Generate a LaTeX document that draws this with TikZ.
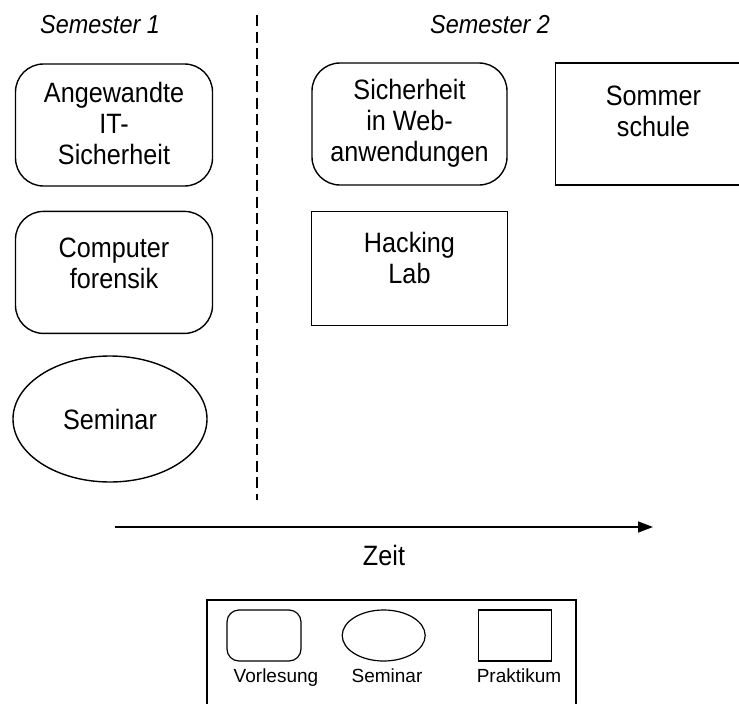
\documentclass[tikz,border=0pt]{standalone}
\usepackage{fontspec}
\setmainfont{Liberation Sans}
\newfontfamily\boxfamily[FakeStretch=0.9]{Liberation Sans}
\usetikzlibrary{positioning, shapes.geometric, arrows.meta}
\newcommand{\boxfont}{\fontsize{28}{31}\selectfont\boxfamily}
\newcommand{\legfont}{\fontsize{19}{23}\selectfont}
\newcommand{\semfont}{\fontsize{26}{30}\selectfont\boxfamily\itshape}

\begin{document}
\begin{tikzpicture}[x=1pt, y=-1pt,
      vl/.style={rectangle, draw, line width=1.4pt, rounded corners=28pt,
                 minimum width=197pt, minimum height=122pt, inner sep=0pt},
      sem/.style={ellipse, draw, line width=1.4pt, minimum width=194pt,
                 minimum height=126pt, inner sep=0pt, font=\boxfont},
      prak/.style={rectangle, draw, line width=1.4pt, minimum width=196pt,
                 minimum height=122pt, inner sep=0pt},
      txt/.style={align=center, font=\boxfont, inner sep=0pt},
      semlbl/.style={anchor=base, font=\semfont, inner sep=0pt},
      leg/.style={draw, line width=1.2pt, minimum width=74pt, minimum height=51pt, inner sep=0pt},
      legtxt/.style={anchor=base, font=\legfont, inner sep=0pt},
      timearr/.style={-{Triangle[length=15pt, width=11pt]}, line width=1.4pt},
      sep/.style={dash pattern=on 11pt off 5.5pt, line width=1.4pt}]
    \useasboundingbox (0,0) rectangle (739,704);
    \node[semlbl] (s1) at (100,34) {Semester 1};
    \node[semlbl] (s2) at (490,34) {Semester 2};
    \coordinate (d0) at (257,15);
    \coordinate (d1) at (257,500);
    \draw[sep] (d0) -- (d1);
    \node[vl, label={[txt, yshift=2pt]center:{Angewandte\\IT-\\Sicherheit}}] (its) at (114,125) {};
    \node[vl, below=24pt of its, label={[txt, yshift=9pt]center:{Computer\\forensik}}] (cf) {};
    \node[sem] (seminar) at (110,419) {Seminar};
    \node[vl, minimum width=195pt, label={[txt, yshift=1pt]center:{Sicherheit\\in Web-\\anwendungen}}] (web) at (409.5,124) {};
    \node[prak, minimum height=114pt, below=25pt of web, label={[txt, yshift=10pt]center:{Hacking\\Lab}}] (hack) {};
    \node[prak, right=47pt of web, label={[txt, yshift=13pt]center:{Sommer\\schule}}] (som) {};
    \coordinate (t0) at (115,527);
    \coordinate (t1) at (653,527);
    \draw[timearr] (t0) -- (t1);
    \node[txt, anchor=base] (zeit) at (384,565) {Zeit};
    \draw[line width=1.2pt] (207,712) |- (576,600) -- (576,712);
    \node[leg, rounded corners=12pt] (lv) at (264,635.5) {};
    \node[leg, ellipse, minimum width=83pt, right=40pt of lv] (lsem) {};
    \node[leg, minimum width=73pt, right=52pt of lsem] (lprak) {};
    \node[legtxt] (lvt) at (276,682) {Vorlesung};
    \node[legtxt] (lsemt) at (387,682) {Seminar};
    \node[legtxt] (lprakt) at (519,682) {Praktikum};
  \end{tikzpicture}
\end{document}
